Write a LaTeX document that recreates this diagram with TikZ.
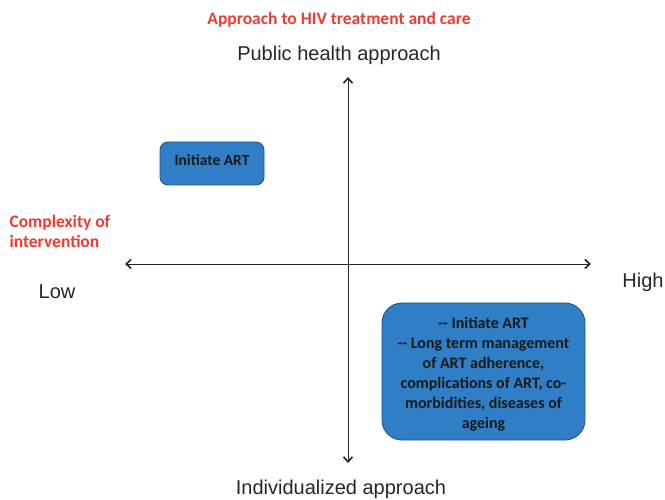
\documentclass[tikz,border=0pt]{standalone}
\usepackage{fontspec}
\setmainfont{Liberation Sans}
\newfontfamily\calib{Carlito}
\usetikzlibrary{arrows.meta}
\definecolor{boxblue}{HTML}{2F7EC6}
\definecolor{boxedge}{HTML}{25577F}
\definecolor{titlered}{HTML}{EE3B33}
\begin{document}
\begin{tikzpicture}[x=1pt,y=-1pt,
  axis/.style={line width=0.8pt, draw=black!85,
    arrows={Straight Barb[length=5pt,width=9pt,line width=1.6pt]-Straight Barb[length=5pt,width=9pt,line width=1.6pt]}},
  bluebox/.style={draw=boxedge, line width=0.9pt, fill=boxblue, font=\calib\bfseries\fontsize{16}{20}\selectfont, text=black!90, align=center, inner sep=0pt},
  redlab/.style={text=titlered, font=\calib\bfseries\fontsize{17.5}{20}\selectfont},
  axlab/.style={font=\fontsize{20}{22}\selectfont, text=black!85}]
\useasboundingbox (0,0) rectangle (665,500);
\node[redlab] (title) at (339,20) {Approach to HIV treatment and care};
\node[axlab] (pub) at (339,55) {Public health approach};
\node[axlab] (ind) at (341,489) {Individualized approach};
\node[axlab] (low) at (57,292) {Low};
\node[axlab] (high) at (643,282) {High};
\node[redlab, align=left, anchor=west] (cx) at (6,231) {Complexity of\\intervention};
\coordinate (top) at (348,77);
\coordinate (bot) at (348,463);
\coordinate (left) at (125,264);
\coordinate (right) at (591,264);
\draw[axis] (top) -- (bot);
\draw[axis] (left) -- (right);
\draw[bluebox, rounded corners=8pt] (160,142) rectangle (264,185);
\node[bluebox, font=\calib\bfseries\fontsize{15.5}{20}\selectfont, draw=none, fill=none] (b1) at (212,160) {Initiate ART};
\draw[bluebox, rounded corners=20pt] (382,303) rectangle (585,440);
\node[bluebox, draw=none, fill=none] (b2) at (483.5,374) {-- Initiate ART\\-- Long term management\\of ART adherence,\\complications of ART, co-\\morbidities, diseases of\\ageing};
\end{tikzpicture}
\end{document}
